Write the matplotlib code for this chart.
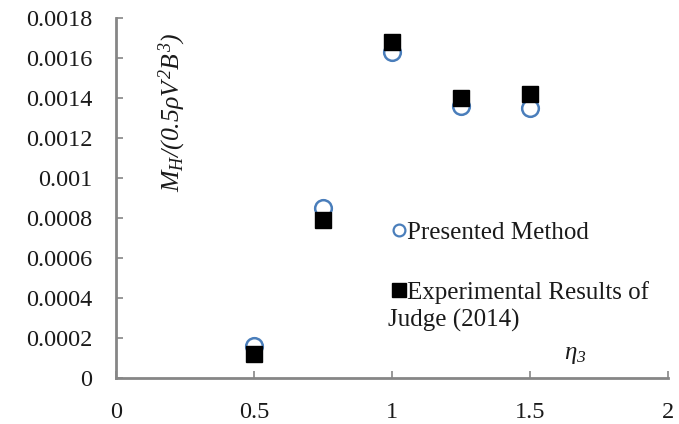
import matplotlib
matplotlib.use("Agg")
import matplotlib.pyplot as plt
from matplotlib.ticker import FixedLocator

# Non-dimensional heave-related moment vs. eta_3
eta3 = [0.5, 0.75, 1.0, 1.25, 1.5]
presented = [0.00016, 0.00085, 0.00163, 0.00136, 0.00135]
experimental = [0.00012, 0.00079, 0.00168, 0.00140, 0.00142]

x_ticks = [0, 0.5, 1, 1.5, 2]
x_tick_labels = ["0", "0.5", "1", "1.5", "2"]
y_ticks = [0, 0.0002, 0.0004, 0.0006, 0.0008, 0.001, 0.0012, 0.0014, 0.0016, 0.0018]
y_tick_labels = ["0", "0.0002", "0.0004", "0.0006", "0.0008", "0.001",
                 "0.0012", "0.0014", "0.0016", "0.0018"]

plt.rcParams["font.family"] = ["Liberation Serif", "DejaVu Serif"]
plt.rcParams["mathtext.fontset"] = "custom"
plt.rcParams["mathtext.rm"] = "Liberation Serif:italic"
plt.rcParams["mathtext.it"] = "Liberation Serif:italic"

fig = plt.figure(figsize=(6.79, 4.24), dpi=100)
ax = fig.add_axes([0.1708, 0.1085, 0.8132, 0.849])

blue = "#4a7ebb"
gray = "#868686"
txt = "#1a1a1a"

ax.plot(eta3, presented, linestyle="none", marker="o", markersize=12,
        markerfacecolor="white", markeredgecolor=blue, markeredgewidth=1.8,
        zorder=3)
ax.plot(eta3, experimental, linestyle="none", marker="s", markersize=12,
        markerfacecolor="black", markeredgecolor="black", zorder=4)

ax.set_xlim(0, 2)
ax.set_ylim(0, 0.0018)
ax.xaxis.set_major_locator(FixedLocator(x_ticks))
ax.yaxis.set_major_locator(FixedLocator(y_ticks))
ax.set_xticklabels(x_tick_labels)
ax.set_yticklabels(y_tick_labels)

for side in ("top", "right"):
    ax.spines[side].set_visible(False)
for side in ("left", "bottom"):
    ax.spines[side].set_color(gray)
    ax.spines[side].set_linewidth(2.0)

ax.tick_params(axis="both", direction="in", length=5, width=1.2, color=gray,
               labelsize=17.5, labelcolor=txt)
ax.tick_params(axis="x", pad=17)
ax.tick_params(axis="y", pad=17)

ax.text(0.205, 0.00133, r"$M_H/(0.5\rho V^2B^3)$", rotation=90,
        fontsize=18.5, ha="center", va="center", color=txt)
ax.text(1.665, 0.000115, r"$\eta_3$", fontsize=18, ha="center", va="center",
        color=txt)

# Legend entries drawn in axes coordinates
ax.plot([0.512], [0.411], transform=ax.transAxes, linestyle="none", marker="o",
        markersize=8.5, markerfacecolor="white", markeredgecolor=blue,
        markeredgewidth=1.6, clip_on=False)
ax.text(0.527, 0.411, "Presented Method", transform=ax.transAxes,
        fontsize=18, ha="left", va="center_baseline", color=txt)
ax.plot([0.512], [0.244], transform=ax.transAxes, linestyle="none", marker="s",
        markersize=9.5, markerfacecolor="black", markeredgecolor="black",
        clip_on=False)
ax.text(0.527, 0.244, "Experimental Results of", transform=ax.transAxes,
        fontsize=18, ha="left", va="center_baseline", color=txt)
ax.text(0.493, 0.166, "Judge (2014)", transform=ax.transAxes,
        fontsize=18, ha="left", va="center_baseline", color=txt)

fig.savefig("out.png", dpi=100)
